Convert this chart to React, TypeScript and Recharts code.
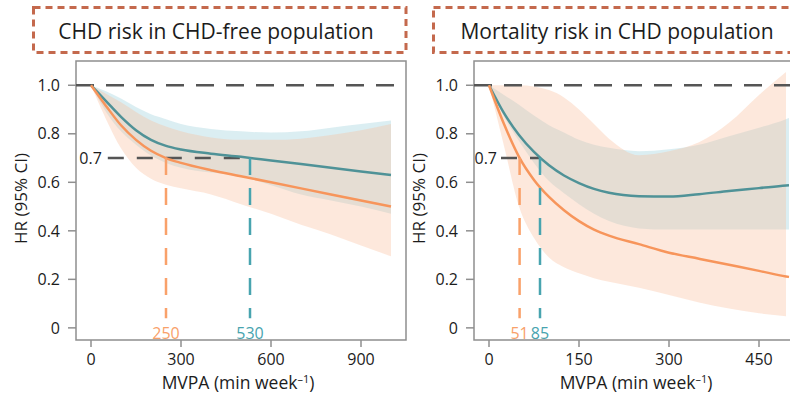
import { ComposedChart, Area, Line, XAxis, YAxis, ReferenceLine, ReferenceArea } from "recharts";

// left panel: CHD risk in CHD-free population
const chdMvpa = [0, 50, 100, 150, 200, 250, 300, 400, 500, 600, 700, 800, 900, 1000];
const chdTeal = [1.0, 0.935, 0.87, 0.815, 0.775, 0.75, 0.735, 0.718, 0.705, 0.69, 0.675, 0.66, 0.645, 0.63];
const chdTealLo = [1.0, 0.89, 0.81, 0.755, 0.71, 0.68, 0.66, 0.64, 0.625, 0.588, 0.55, 0.525, 0.5, 0.47];
const chdTealHi = [1.0, 0.975, 0.945, 0.91, 0.88, 0.86, 0.84, 0.82, 0.81, 0.805, 0.81, 0.825, 0.84, 0.855];
const chdOrange = [1.0, 0.915, 0.835, 0.775, 0.73, 0.7, 0.68, 0.65, 0.625, 0.6, 0.575, 0.55, 0.525, 0.5];
const chdOrangeLo = [1.0, 0.86, 0.74, 0.66, 0.615, 0.59, 0.575, 0.55, 0.51, 0.47, 0.425, 0.385, 0.34, 0.295];
const chdOrangeHi = [1.0, 0.965, 0.93, 0.89, 0.855, 0.83, 0.81, 0.785, 0.775, 0.775, 0.78, 0.795, 0.815, 0.84];
const chdTicks = [0, 300, 600, 900];
const chdCuts = { orange: 250, teal: 530 };

// right panel: mortality risk in CHD population
const mortMvpa = [0, 25, 50, 75, 100, 125, 150, 175, 200, 250, 300, 350, 400, 450, 495, 500];
const mortTeal = [1.0, 0.885, 0.795, 0.725, 0.67, 0.628, 0.597, 0.573, 0.557, 0.543, 0.541, 0.551, 0.564, 0.576, 0.587, 0.588];
const mortTealLo = [1.0, 0.87, 0.77, 0.68, 0.605, 0.555, 0.51, 0.47, 0.44, 0.41, 0.405, 0.405, 0.405, 0.405, 0.405, 0.405];
const mortTealHi = [1.0, 0.96, 0.92, 0.875, 0.835, 0.805, 0.775, 0.755, 0.742, 0.728, 0.736, 0.755, 0.79, 0.825, 0.86, 0.865];
const mortOrange = [1.0, 0.84, 0.705, 0.61, 0.54, 0.485, 0.44, 0.405, 0.38, 0.345, 0.31, 0.285, 0.26, 0.235, 0.212, 0.21];
const mortOrangeLo = [1.0, 0.75, 0.5, 0.37, 0.29, 0.25, 0.225, 0.205, 0.19, 0.165, 0.135, 0.105, 0.08, 0.06, 0.048, null];
const mortOrangeHi = [1.0, 1.0, 1.0, 0.995, 0.98, 0.95, 0.9, 0.84, 0.78, 0.712, 0.728, 0.765, 0.845, 0.96, 1.055, null];
const mortTicks = [0, 150, 300, 450];
const mortCuts = { orange: 51, teal: 85 };

const hrTicks = [0, 0.2, 0.4, 0.6, 0.8, 1.0];
const titles = ["CHD risk in CHD-free population", "Mortality risk in CHD population"];

const ORANGE = "#f7955b";
const ORANGE_DASH = "#f9a16a";
const TEAL = "#4f9297";
const TEAL_DASH = "#48a4af";
const BOX = "#c4694d";
const FRAME = "#8f8f8f";
const INK = "#1c1c1c";
const FONT = "'Open Sans', Roboto, sans-serif";

const buildRows = (xs, teal, tLo, tHi, orange, oLo, oHi) =>
  xs.map((x, i) => ({
    x,
    teal: teal[i],
    tealBand: [tLo[i], tHi[i]],
    orange: orange[i],
    orangeBand: oLo[i] == null ? null : [oLo[i], oHi[i]],
  }));

const XTitle = (props: any) => {
  const vb = props.viewBox || { x: 0, y: 0, width: 0 };
  return (
    <text x={vb.x + vb.width / 2 - 3} y={vb.y + 48.5} textAnchor="middle" fontSize={17.5} fill={INK} fontFamily={FONT}>
      MVPA (min week
      <tspan dy={-6} fontSize={11}>–1</tspan>
      <tspan dy={6}>)</tspan>
    </text>
  );
};

const YTitle = (props: any) => {
  const vb = props.viewBox || { x: 0, y: 0, height: 0 };
  const cx = vb.x + 20;
  const cy = vb.y + vb.height / 2 - 2;
  return (
    <text x={cx} y={cy} transform={`rotate(-90, ${cx}, ${cy})`} textAnchor="middle" dominantBaseline="central" fontSize={17} fill={INK} fontFamily={FONT}>
      HR (95% CI)
    </text>
  );
};

const Panel = ({ rows, domain, ticks, cuts, lineStart, labelOffset, width, right }) => (
  <ComposedChart width={width} height={393} data={rows} margin={{ top: 61, right, bottom: 0, left: 0 }}>
    <XAxis
      dataKey="x"
      type="number"
      domain={domain}
      ticks={ticks}
      allowDataOverflow
      height={53}
      axisLine={false}
      tickLine={{ stroke: FRAME, strokeWidth: 1.5 }}
      tickSize={7}
      tickMargin={7}
      tick={{ fill: INK, fontSize: 16 }}
      label={<XTitle />}
    />
    <YAxis
      type="number"
      domain={[-0.05, 1.1]}
      ticks={hrTicks}
      allowDataOverflow
      width={76}
      axisLine={false}
      tickLine={{ stroke: FRAME, strokeWidth: 1.5 }}
      tickSize={8}
      tickMargin={8}
      tick={{ fill: INK, fontSize: 16 }}
      tickFormatter={(v) => (v === 0 ? "0" : v.toFixed(1))}
      label={<YTitle />}
    />
    <ReferenceArea x1={domain[0]} x2={domain[1]} y1={-0.05} y2={1.1} fill="none" stroke={FRAME} strokeWidth={1.5} ifOverflow="visible" />
    <Area type="monotone" dataKey="tealBand" stroke="none" fill="rgb(160,210,222)" fillOpacity={0.38} isAnimationActive={false} />
    <Area type="monotone" dataKey="orangeBand" stroke="none" fill="rgb(250,190,155)" fillOpacity={0.35} isAnimationActive={false} />
    <ReferenceLine y={1} stroke="#555" strokeWidth={2.5} strokeDasharray="18 12" />
    <ReferenceLine
      segment={[{ x: lineStart, y: 0.7 }, { x: cuts.teal, y: 0.7 }]}
      stroke="#555"
      strokeWidth={2.5}
      strokeDasharray="16 13"
      label={{ value: "0.7", position: "left", offset: labelOffset, fill: INK, fontSize: 16 }}
    />
    <Line type="monotone" dataKey="teal" stroke={TEAL} strokeWidth={2.5} dot={false} isAnimationActive={false} />
    <Line type="monotone" dataKey="orange" stroke={ORANGE} strokeWidth={2.5} dot={false} isAnimationActive={false} />
    <ReferenceLine
      segment={[{ x: cuts.orange, y: 0.7 }, { x: cuts.orange, y: 0.04 }]}
      stroke={ORANGE_DASH}
      strokeWidth={2.5}
      strokeDasharray="17 13"
      label={{ value: String(cuts.orange), position: "bottom", offset: 9, fill: ORANGE_DASH, fontSize: 16 }}
    />
    <ReferenceLine
      segment={[{ x: cuts.teal, y: 0.7 }, { x: cuts.teal, y: 0.04 }]}
      stroke={TEAL_DASH}
      strokeWidth={2.5}
      strokeDasharray="17 13"
      label={{ value: String(cuts.teal), position: "bottom", offset: 9, fill: TEAL_DASH, fontSize: 16 }}
    />
  </ComposedChart>
);

export default function App() {
  const chdRows = buildRows(chdMvpa, chdTeal, chdTealLo, chdTealHi, chdOrange, chdOrangeLo, chdOrangeHi);
  const mortRows = buildRows(mortMvpa, mortTeal, mortTealLo, mortTealHi, mortOrange, mortOrangeLo, mortOrangeHi);
  return (
    <div style={{ position: "absolute", left: 0, top: 0, width: 790, height: 393, overflow: "hidden", background: "#fff", fontFamily: FONT }}>
      <div style={{ position: "absolute", left: 0, top: 0 }}>
        <Panel rows={chdRows} domain={[-50, 1050]} ticks={chdTicks} cuts={chdCuts} lineStart={56} labelOffset={6} width={420} right={14} />
      </div>
      <div style={{ position: "absolute", left: 398, top: 0 }}>
        <Panel rows={mortRows} domain={[-25, 525]} ticks={mortTicks} cuts={mortCuts} lineStart={20} labelOffset={4} width={410} right={4} />
      </div>
      <svg width={790} height={60} style={{ position: "absolute", left: 0, top: 0, pointerEvents: "none" }}>
        <rect x={33.5} y={7.5} width={372.5} height={45} fill="none" stroke={BOX} strokeWidth={3} strokeDasharray="7 5" />
        <text x={216} y={39} textAnchor="middle" fontSize={21} fill={INK} fontFamily={FONT}>{titles[0]}</text>
        <rect x={433.5} y={7.5} width={368} height={45} fill="none" stroke={BOX} strokeWidth={3} strokeDasharray="7 5" />
        <text x={617} y={39} textAnchor="middle" fontSize={21} fill={INK} fontFamily={FONT}>{titles[1]}</text>
      </svg>
    </div>
  );
}
